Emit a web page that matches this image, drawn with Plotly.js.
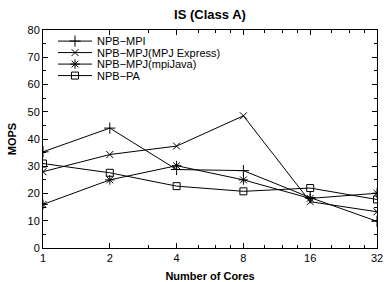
<!DOCTYPE html>
<html><head><meta charset="utf-8">
<script src="https://cdn.plot.ly/plotly-3.0.1.min.js"></script>
<style>body{margin:0;padding:0;}#chart{width:387px;height:282px;}</style>
</head><body><div id="chart"></div>
<script>
var cores = [1, 2, 4, 8, 16, 32];
var tickLabels = ['1', '2', '4', '8', '16', '32'];
var npbMpi = [35.3, 44.0, 28.8, 28.4, 18.5, 9.8];
var npbMpjExpress = [28.0, 34.3, 37.4, 48.5, 17.0, 13.3];
var npbMpjMpiJava = [16.0, 25.0, 30.2, 25.0, 18.2, 20.1];
var npbPa = [31.0, 27.6, 22.7, 20.8, 22.0, 17.8];
var seriesNames = ['NPB\u2212MPI', 'NPB\u2212MPJ(MPJ Express)', 'NPB\u2212MPJ(mpiJava)', 'NPB\u2212PA'];
var minorX = [3, 5, 6, 7, 10, 12, 14, 20, 24, 28];

var symbols = ['cross-thin', 'x-thin', 'asterisk', 'square-open'];
var sizes = [8, 7, 8, 7];
var allY = [npbMpi, npbMpjExpress, npbMpjMpiJava, npbPa];
var traces = allY.map(function (ys, i) {
  return {
    x: cores, y: ys, name: seriesNames[i], type: 'scatter', mode: 'lines+markers',
    line: {color: '#000', width: 1},
    marker: {symbol: symbols[i], size: sizes[i], color: '#000', line: {color: '#000', width: 1}}
  };
});
var font = 'Liberation Sans, Arial, Helvetica, sans-serif';
var layout = {
  width: 387, height: 282,
  margin: {l: 43, r: 10, t: 30, b: 34},
  paper_bgcolor: '#fff', plot_bgcolor: '#fff',
  font: {family: font, size: 11, color: '#000'},
  showlegend: true,
  title: {text: '<b>IS (Class A)</b>', font: {size: 13, family: font, color: '#000'}, x: 0.5, xref: 'paper', y: 1 - 14 / 282, yref: 'container', yanchor: 'middle'},
  xaxis: {
    type: 'log', range: [0, Math.log10(32)], tickmode: 'array', tickvals: cores, ticktext: tickLabels,
    ticks: 'inside', ticklen: 5, tickwidth: 1, tickcolor: '#000',
    showline: true, linecolor: '#000', linewidth: 1, mirror: 'allticks', showgrid: false, zeroline: false,
    tickfont: {size: 11, family: font},
    minor: {tickmode: 'array', tickvals: minorX, ticks: 'inside', ticklen: 3, tickcolor: '#000', showgrid: false},
    title: {text: '<b>Number of Cores</b>', font: {size: 11, family: font}, standoff: 11}
  },
  yaxis: {
    range: [0, 80], dtick: 10, tick0: 0,
    ticks: 'inside', ticklen: 5, tickwidth: 1, tickcolor: '#000',
    showline: true, linecolor: '#000', linewidth: 1, mirror: 'allticks', showgrid: false, zeroline: false,
    tickfont: {size: 11, family: font},
    minor: {dtick: 5, ticks: 'inside', ticklen: 3, tickcolor: '#000', showgrid: false},
    title: {text: '<b>MOPS</b>', font: {size: 11, family: font}, standoff: 8}
  },
  legend: {x: 0.03, y: 0.995, xanchor: 'left', yanchor: 'top', bgcolor: 'rgba(0,0,0,0)', font: {size: 11, family: font}, tracegroupgap: 0, itemwidth: 34}
};
Plotly.newPlot('chart', traces, layout, {displayModeBar: false, staticPlot: true}).then(function (gd) {
  // tighten the legend row spacing to match the reference
  var items = gd.querySelectorAll('.legend .traces');
  if (!items.length) return;
  var m = /translate\(\s*([-\d.]+)[ ,]+([-\d.]+)/.exec(items[0].getAttribute('transform') || '');
  if (!m) return;
  var x0 = parseFloat(m[1]), y0 = parseFloat(m[2]) - 4.5;
  for (var i = 0; i < items.length; i++) {
    items[i].setAttribute('transform', 'translate(' + x0 + ',' + (y0 + i * 11.5) + ')');
  }
});
</script></body></html>
